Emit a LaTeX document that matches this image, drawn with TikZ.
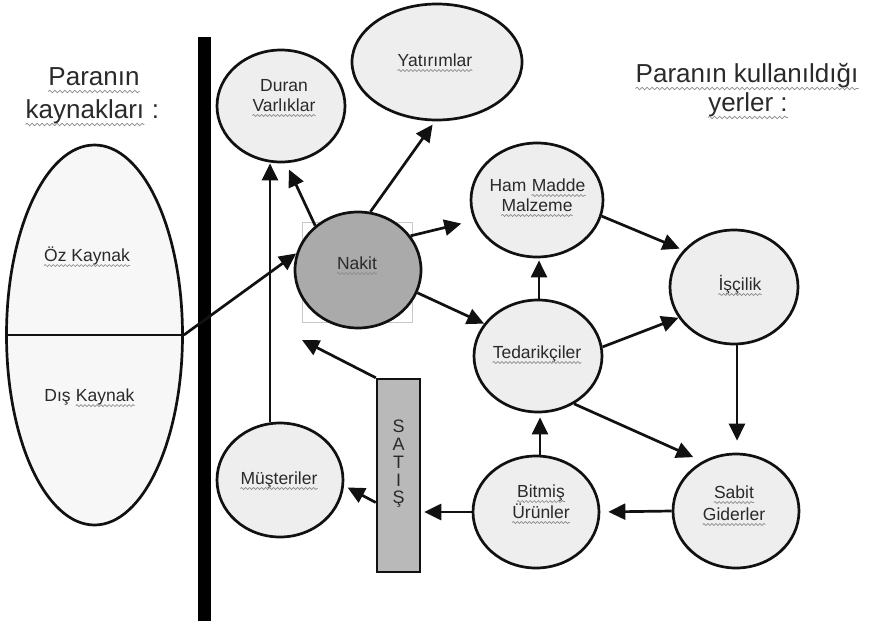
\documentclass[tikz,border=0pt]{standalone}
\usepackage{fontspec}
\setmainfont{Liberation Sans}
\usetikzlibrary{shapes.geometric,arrows.meta,decorations.pathmorphing}

\definecolor{ink}{HTML}{2A2A2A}
\definecolor{edge}{HTML}{111111}
\definecolor{bubfill}{HTML}{EEEEEE}
\definecolor{srcfill}{HTML}{F7F7F7}
\definecolor{nakitfill}{HTML}{AAAAAA}
\definecolor{satisfill}{HTML}{B9B9B9}
\definecolor{framegray}{HTML}{C8C8C8}
\definecolor{wavegray}{HTML}{8C8C8C}

% wavy grey underline below the baseline of a text node
\newcommand\wave[2][4.5pt]{\draw[wavy] ([yshift=-#1]#2.base west) -- ([yshift=-#1]#2.base east);}
\newcommand\bigwave[1]{\draw[wavy, decoration={snake, amplitude=1.3pt, segment length=5pt}] ([yshift=-6.5pt]#1.base west) -- ([yshift=-6.5pt]#1.base east);}

\begin{document}
\begin{tikzpicture}[x=1pt,y=-1pt,
  bub/.style={ellipse, draw=edge, line width=2.7pt, fill=bubfill, inner sep=0pt},
  txt/.style={text=ink, font=\fontsize{17.5}{20}\selectfont, inner sep=0pt, anchor=base},
  title/.style={text=ink, font=\fontsize{26}{35}\selectfont, inner sep=0pt, anchor=base},
  arr/.style={draw=edge, line width=2.7pt, -{Triangle[length=17pt,width=16pt]}},
  wavy/.style={draw=wavegray, line width=0.7pt, decorate, decoration={snake, amplitude=1pt, segment length=4pt}},
]
\useasboundingbox (0,0) rectangle (869,621);

% sources of funds
\node[bub, fill=srcfill, minimum width=176pt, minimum height=380pt] (src) at (94.5,335) {};
\draw[line width=2.7pt, draw=edge] (src.west) -- (src.east);
\node[txt] (ozT) at (87,261) {Öz Kaynak};
\node[txt, anchor=base west] (disA) at (44.2,401) {Dış};
\node[txt, anchor=base west] (disB) at ([xshift=4.9pt]disA.base east) {Kaynak};
\node[title] (srcA) at (94,85) {Paranın};
\node[title, anchor=base west] (srcB) at (25.5,118) {kaynakları};
\node[title, anchor=base west] (srcC) at ([xshift=7.2pt]srcB.base east) {:};

% dividing bar
\fill[black] (198,37) rectangle (211,621);

% uses of funds
\node[title] (useA) at (747,82) {Paranın kullanıldığı};
\node[title] (useB) at (748,111) {yerler :};

\node[bub, minimum width=128pt, minimum height=112pt] (duran) at (281,106) {};
\node[bub, minimum width=170pt, minimum height=116pt] (yat) at (437,62) {};
\node[draw=framegray, line width=0.8pt, minimum width=110pt, minimum height=100pt, inner sep=0pt] (nakitframe) at (357,272) {};
\node[bub, fill=nakitfill, minimum width=126pt, minimum height=116pt] (nakit) at (358,270) {};
\node[bub, minimum width=132pt, minimum height=114pt] (ham) at (537,200) {};
\node[bub, minimum width=128pt, minimum height=112pt] (ted) at (538,356) {};
\node[bub, minimum width=128pt, minimum height=114pt] (isc) at (734,287) {};
\node[bub, minimum width=126pt, minimum height=114pt] (sabit) at (736,511) {};
\node[bub, minimum width=126pt, minimum height=112pt] (bit) at (536,512) {};
\node[bub, minimum width=126pt, minimum height=114pt] (mus) at (280,480) {};
\node[draw=edge, line width=2.5pt, fill=satisfill, minimum width=43pt, minimum height=193pt, inner sep=0pt] (satis) at (398.5,475.5) {};

\node[txt] (duranA) at (284,91) {Duran};
\node[txt] (duranB) at (284,111) {Varlıklar};
\node[txt] (yatT) at (435,66) {Yatırımlar};
\node[txt] (nakitT) at (357,269) {Nakit};
\node[txt, anchor=base west] (hamA) at (489.4,191) {Ham};
\node[txt, anchor=base west] (hamB) at ([xshift=4.9pt]hamA.base east) {Madde};
\node[txt] (hamC) at (537,211) {Malzeme};
\node[txt] (tedT) at (537,358) {Tedarikçiler};
\node[txt] (iscT) at (740,290) {İşçilik};
\node[txt] (sabitA) at (734,498) {Sabit};
\node[txt] (sabitB) at (734,520) {Giderler};
\node[txt] (bitA) at (541,497) {Bitmiş};
\node[txt] (bitB) at (541,518) {Ürünler};
\node[txt] (musT) at (279,484) {Müşteriler};
\node[txt, anchor=center, align=center, font=\fontsize{18}{17.75}\selectfont] (satisT) at (398.5,464) {S\\A\\T\\I\\Ş};

% spell-check underlines
\foreach \n in {ozT,disB,duranB,yatT,nakitT,hamB,hamC,tedT,iscT,sabitA,sabitB,bitA,bitB,musT} {\wave{\n}}
\foreach \n in {srcA,srcB,useA,useB} {\bigwave{\n}}

% flows
\draw[arr] (src.east) -- (nakit.165);
\draw[arr, shorten >=7pt] (nakit.134) -- (duran.-85);
\draw[arr] ([xshift=-10pt]mus.north) -- ([xshift=-11pt]duran.south);
\draw[arr, shorten >=4pt] (nakit.78) -- (yat.-92);
\draw[arr, shorten >=13pt] (nakit.33) -- (ham.198);
\draw[arr] (nakit.-21) -- (ted.149);
\draw[arr, shorten >=2pt] ([xshift=1pt]ted.north) -- ([xshift=2pt]ham.south);
\draw[arr, shorten >=4pt] (ham.-14) -- (isc.144);
\draw[arr] (ted.8) -- (isc.209);
\draw[arr, shorten >=12pt] ([xshift=3pt]isc.south) -- ([xshift=1pt]sabit.north);
\draw[arr, shorten >=10pt] (ted.-53) -- (sabit.124);
\draw[arr, shorten >=4pt] ([xshift=4pt]bit.north) -- ([xshift=2pt]ted.south);
\draw[arr, shorten >=8pt] (sabit.west) -- (bit.east);
\draw[arr, shorten >=3pt] (bit.west) -- (satis.east |- bit.west);
\draw[arr, shorten >=4pt] ([yshift=-27pt]satis.west) -- (mus.-5);
\coordinate (satisTip) at (302,340);
\draw[arr] (satis.north west) -- (satisTip);
\end{tikzpicture}
\end{document}
